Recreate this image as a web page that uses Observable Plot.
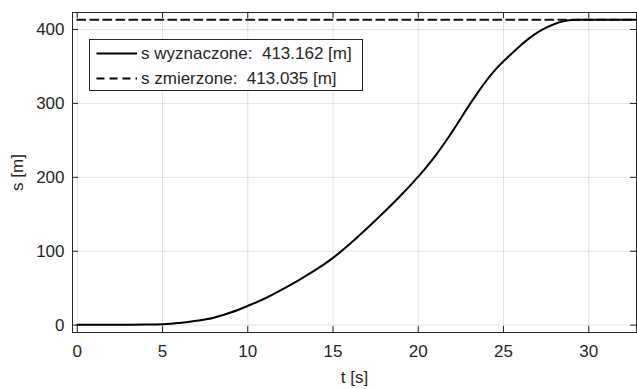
<!DOCTYPE html>
<html>
<head>
<meta charset="utf-8">
<script src="https://cdn.jsdelivr.net/npm/d3@7"></script>
<script src="https://cdn.jsdelivr.net/npm/@observablehq/plot@0.6"></script>
<style>
  html, body { margin: 0; padding: 0; background: #fff; }
</style>
</head>
<body>
<div id="chart"></div>
<script>
// Data
const tValues = [0, 1, 2, 3, 4, 5, 5.5, 6, 6.5, 7, 7.5, 8, 9, 10, 11, 12, 13, 14, 15, 16, 17, 18, 19, 20, 20.5, 21, 21.5, 22, 22.5, 23, 23.5, 24, 24.5, 25, 25.5, 26, 26.5, 27, 27.5, 28, 28.5, 29, 29.5, 30, 31, 32, 33];
const sValues = [0.4, 0.4, 0.5, 0.6, 0.7, 1, 1.8, 3, 4.3, 5.8, 7.7, 10, 17, 26, 36, 48, 61, 75, 91, 110, 131, 153, 176, 201, 214.5, 229, 245, 262, 280, 298, 315, 331, 345, 357, 368, 378.5, 388, 396, 402.5, 407.5, 411, 412.7, 413.1, 413.2, 413.2, 413.2, 413.2];
const sMeasured = 413.035;
const sComputed = 413.162;
const xTicks = [0, 5, 10, 15, 20, 25, 30];
const yTicks = [0, 100, 200, 300, 400];
const legendLabels = ["s wyznaczone:  " + sComputed.toFixed(3) + " [m]", "s zmierzone:  " + sMeasured.toFixed(3) + " [m]"];

const series = tValues.map((t, i) => ({t, s: sValues[i]}));

const W = 637, H = 389;
const mL = 72, mR = 1, mT = 12, mB = 57;
const innerW = W - mL - mR, innerH = H - mT - mB;
const ink = "#262626";
const tickLen = 6;
const fontFam = "'Liberation Sans', Arial, Helvetica, sans-serif";

const plot = Plot.plot({
  width: W,
  height: H,
  marginLeft: mL,
  marginRight: mR,
  marginTop: mT,
  marginBottom: mB,
  style: {fontFamily: fontFam, fontSize: "17px", color: ink, background: "#fff"},
  x: {domain: [-0.28, 32.8]},
  y: {domain: [-10, 423]},
  marks: [
    Plot.gridX(xTicks, {stroke: ink, strokeOpacity: 0.13, strokeWidth: 1}),
    Plot.gridY(yTicks, {stroke: ink, strokeOpacity: 0.13, strokeWidth: 1}),
    Plot.lineY([{t: 0, s: sMeasured}, {t: 33, s: sMeasured}], {x: "t", y: "s", stroke: "#111", strokeWidth: 2, strokeDasharray: "8,5", clip: true}),
    Plot.line(series, {x: "t", y: "s", curve: "natural", stroke: "#000", strokeWidth: 2, clip: true}),
    Plot.frame({stroke: ink, strokeWidth: 1}),
    Plot.tickX(xTicks, {x: d => d, stroke: ink, insetTop: innerH - tickLen}),
    Plot.tickX(xTicks, {x: d => d, stroke: ink, insetBottom: innerH - tickLen}),
    Plot.tickY(yTicks, {y: d => d, stroke: ink, insetRight: innerW - tickLen}),
    Plot.tickY(yTicks, {y: d => d, stroke: ink, insetLeft: innerW - tickLen}),
    Plot.axisX(xTicks, {tickSize: 0, tickPadding: 12, label: "t [s]", labelAnchor: "center", labelArrow: "none", labelOffset: 50}),
    Plot.axisY(yTicks, {tickSize: 0, tickPadding: 8, label: "s [m]", labelAnchor: "center", labelArrow: "none", labelOffset: 62})
  ]
});

document.getElementById("chart").appendChild(plot);

// Legend drawn inside the axes (upper left)
const svg = d3.select(plot);
const lg = svg.append("g").attr("font-family", fontFam).attr("font-size", 17).attr("fill", ink).attr("text-anchor", "start");
lg.append("rect").attr("x", 89.5).attr("y", 39.5).attr("width", 273).attr("height", 51)
  .attr("fill", "#fff").attr("stroke", ink).attr("stroke-width", 1);
const rows = [
  {label: legendLabels[0], dash: null, y: 53.5},
  {label: legendLabels[1], dash: "8,5", y: 78.5}
];
rows.forEach(r => {
  const ln = lg.append("line").attr("x1", 96.5).attr("x2", 137).attr("y1", r.y).attr("y2", r.y)
    .attr("stroke", "#000").attr("stroke-width", 2);
  if (r.dash) ln.attr("stroke-dasharray", r.dash);
  lg.append("text").attr("x", 141).attr("y", r.y).attr("dy", "0.35em").attr("text-anchor", "start")
    .style("white-space", "pre").text(r.label);
});
</script>
</body>
</html>
